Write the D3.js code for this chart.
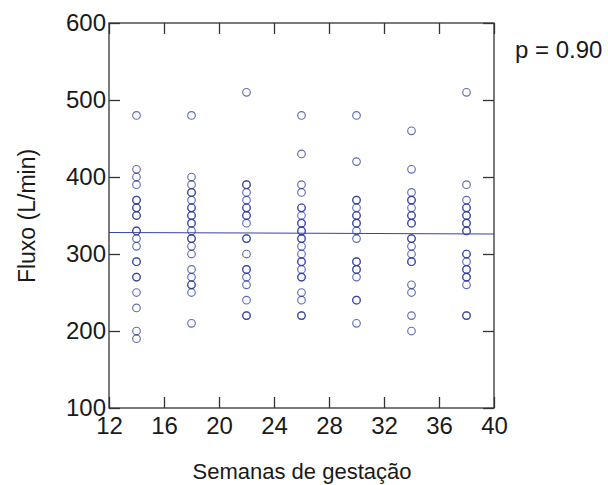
<!DOCTYPE html>
<html>
<head>
<meta charset="utf-8">
<script src="https://cdn.jsdelivr.net/npm/d3@7"></script>
<style>
  body { margin: 0; background: #fff; }
  svg text { font-family: "Liberation Sans", Arial, sans-serif; fill: #1a1a1a; }
</style>
</head>
<body>
<svg id="chart" width="608" height="485"></svg>
<script>
// weeks of gestation (x) and flow values read per column
const weeks = [14, 18, 22, 26, 30, 34, 38];
const wk14 = [480, 410, 400, 390, 370, 370, 360, 360, 350, 350, 330, 330, 320, 310, 290, 290, 270, 270, 250, 230, 200, 190];
const wk18 = [480, 400, 390, 380, 380, 370, 360, 360, 350, 350, 340, 340, 330, 320, 320, 310, 300, 280, 270, 260, 260, 250, 210];
const wk22 = [510, 390, 390, 380, 370, 360, 360, 350, 350, 340, 320, 320, 300, 280, 280, 270, 260, 240, 220, 220];
const wk26 = [480, 430, 390, 380, 360, 360, 350, 340, 340, 330, 330, 320, 320, 310, 300, 290, 290, 280, 270, 270, 250, 240, 220, 220];
const wk30 = [480, 420, 370, 370, 360, 350, 350, 340, 340, 330, 320, 290, 290, 280, 280, 270, 240, 240, 210];
const wk34 = [460, 410, 380, 370, 370, 360, 350, 350, 340, 340, 320, 320, 310, 300, 290, 290, 260, 250, 220, 200];
const wk38 = [510, 390, 370, 360, 360, 350, 350, 340, 340, 330, 330, 300, 300, 290, 280, 280, 270, 270, 260, 220, 220];
const columns = [wk14, wk18, wk22, wk26, wk30, wk34, wk38];

// fitted line ends
const fitX = [12, 40];
const fitY = [328, 326];

const xTicks = [12, 16, 20, 24, 28, 32, 36, 40];
const yTicks = [100, 200, 300, 400, 500, 600];

const svg = d3.select("#chart");
const mLeft = 109, mRight = 494, mTop = 23, mBottom = 408;
const blue = "#2b3a9e";

const x = d3.scaleLinear().domain([12, 40]).range([mLeft, mRight]);
const y = d3.scaleLinear().domain([100, 600]).range([mBottom, mTop]);

// flatten points
let points = [];
weeks.forEach((w, i) => {
    columns[i].forEach(v => points.push({ w: w, v: v }));
});

svg.selectAll("circle.pt")
    .data(points)
    .enter()
    .append("circle")
    .attr("class", "pt")
    .attr("cx", d => x(d.w))
    .attr("cy", d => y(d.v))
    .attr("r", 3.8)
    .attr("fill", "none")
    .attr("stroke", blue)
    .attr("stroke-opacity", 0.75)
    .attr("stroke-width", 1.15);

svg.append("line")
    .attr("x1", x(fitX[0]))
    .attr("y1", y(fitY[0]))
    .attr("x2", x(fitX[1]))
    .attr("y2", y(fitY[1]))
    .attr("stroke", "#3645a8")
    .attr("stroke-width", 1.1);

// axes with inward ticks
const styleAxis = g => {
    g.select(".domain").remove();
    g.selectAll(".tick line").attr("stroke", "#333").attr("stroke-width", 1.3);
    g.selectAll(".tick text")
        .style("font-size", "24px")
        .style("font-family", "'Liberation Sans', Arial, sans-serif")
        .attr("fill", "#1a1a1a");
};

svg.append("g")
    .attr("transform", `translate(0,${mBottom})`)
    .call(d3.axisBottom(x).tickValues(xTicks).tickSize(-11).tickPadding(9).tickFormat(d3.format("d")))
    .call(styleAxis);

svg.append("g")
    .attr("transform", `translate(0,${mTop})`)
    .call(d3.axisTop(x).tickValues(xTicks).tickSize(-11).tickFormat(""))
    .call(styleAxis);

svg.append("g")
    .attr("transform", `translate(${mLeft},0)`)
    .call(d3.axisLeft(y).tickValues(yTicks).tickSize(-11).tickPadding(3).tickFormat(d3.format("d")))
    .call(styleAxis);

svg.append("g")
    .attr("transform", `translate(${mRight},0)`)
    .call(d3.axisRight(y).tickValues(yTicks).tickSize(-11).tickFormat(""))
    .call(styleAxis);

// frame
svg.append("rect")
    .attr("x", mLeft)
    .attr("y", mTop)
    .attr("width", mRight - mLeft)
    .attr("height", mBottom - mTop)
    .attr("fill", "none")
    .attr("stroke", "#333")
    .attr("stroke-width", 1.3);

svg.append("text")
    .attr("x", 302)
    .attr("y", 479)
    .attr("text-anchor", "middle")
    .style("font-size", "22px")
    .text("Semanas de gestação");

svg.append("text")
    .attr("transform", "translate(35,216) rotate(-90)")
    .attr("text-anchor", "middle")
    .style("font-size", "23px")
    .text("Fluxo (L/min)");

svg.append("text")
    .attr("x", 515)
    .attr("y", 58)
    .style("font-size", "24px")
    .text("p = 0.90");
</script>
</body>
</html>
